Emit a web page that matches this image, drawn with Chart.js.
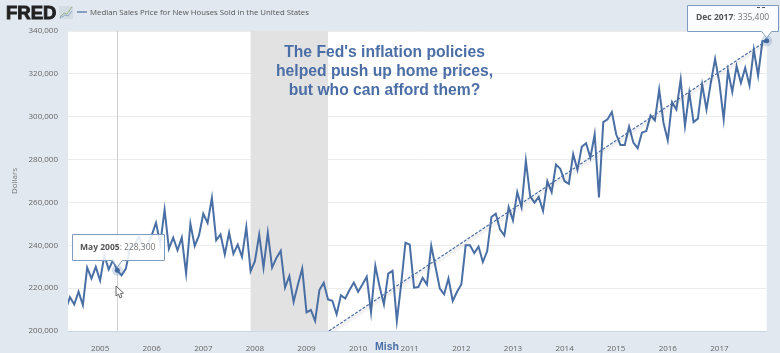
<!DOCTYPE html>
<html>
<head>
<meta charset="utf-8">
<title>Median Sales Price for New Houses Sold in the United States</title>
<script src="https://cdn.jsdelivr.net/npm/chart.js@4"></script>
<style>
    html, body { margin: 0; padding: 0; background: #e1e8f0; }
    canvas { display: block; filter: blur(0.3px); }
</style>
</head>
<body>
<canvas id="grafico" width="780" height="353"></canvas>
<script>
// Months are counted from Jan 2005 (0 = Jan 2005, 155 = Dec 2017)
const firstMonth = -8;
const prices = [
    210000, 215800, 212400, 218300, 212100, 229600, 224500, 229900,
    223600, 235300, 228700, 233000, 228300, 226000, 229100, 239200, 240000, 243900, 239200, 240000,
    244600, 250500, 240800, 256600, 238400, 243600, 237700, 243600, 226800, 250100, 239700, 244600,
    254700, 250400, 262200, 242300, 245100, 235700, 245900, 236000, 240300, 234600, 248500, 227900,
    232600, 245000, 229600, 245900, 229600, 234100, 237400, 220300, 225600, 213600, 221700, 229100,
    208700, 209800, 204700, 219100, 222500, 214700, 214100, 207800, 216700, 215200, 219100, 222600,
    218300, 221700, 225300, 208700, 230400, 220600, 212400, 226800, 228100, 204700, 221700, 241200,
    240300, 220200, 220500, 224800, 221700, 239800, 229900, 219800, 217100, 224500, 214000, 218300,
    221700, 240000, 240000, 236400, 239400, 232200, 237200, 253200, 254700, 247300, 244600, 257800,
    251600, 264800, 257700, 279500, 262900, 259900, 262600, 256000, 269900, 264800, 277700, 275700,
    269900, 268700, 282500, 275200, 286000, 287600, 280900, 291800, 262300, 297500, 298800, 302200,
    291800, 286800, 286800, 295400, 287900, 285300, 292600, 293300, 300600, 298300, 312700, 297200,
    289000, 306800, 303400, 317400, 295700, 311200, 297500, 299100, 315000, 303400, 315800, 327000,
    315800, 298800, 321500, 311500, 323600, 315800, 322800, 314600, 331300, 319200, 335200, 335400
];

const yearLabels = ["2005", "2006", "2007", "2008", "2009", "2010", "2011", "2012", "2013", "2014", "2015", "2016", "2017"];
const yearMonths = [0, 12, 24, 36, 48, 60, 72, 84, 96, 108, 120, 132, 144];
const priceTicks = [200000, 220000, 240000, 260000, 280000, 300000, 320000, 340000];

const trendMonths = [53.2, 154.6];
const trendValues = [200000, 335000];

const recessionStart = 35;
const recessionEnd = 53;

const markedMonths = [4, 155];
const markedValues = [228300, 335400];
const markedLabels = ["May 2005", "Dec 2017"];
const markedTexts = ["228,300", "335,400"];

const annotationLines = ["The Fed's inflation policies", "helped push up home prices,", "but who can afford them?"];

const AZUL = "#4a6ea5";
const FONTE = "'Open Sans', 'Noto Sans', sans-serif";

function caixaTooltip(ctx, x, y, w, h, px, py) {
    ctx.save();
    ctx.fillStyle = "rgba(255,255,255,0.86)";
    ctx.strokeStyle = "#7f9cc0";
    ctx.lineWidth = 1;
    ctx.beginPath();
    ctx.moveTo(x, y);
    ctx.lineTo(x + w, y);
    ctx.lineTo(x + w, y + h);
    ctx.lineTo(px + 5, y + h);
    ctx.lineTo(px, py);
    ctx.lineTo(px - 5, y + h);
    ctx.lineTo(x, y + h);
    ctx.closePath();
    ctx.fill();
    ctx.stroke();
    ctx.restore();
}

function textoTooltip(ctx, x, y, label, valor) {
    ctx.textAlign = "left";
    ctx.textBaseline = "middle";
    ctx.font = "bold 8.5px " + FONTE;
    ctx.fillStyle = "#555";
    ctx.fillText(label, x, y);
    const w = ctx.measureText(label).width;
    ctx.font = "8.5px " + FONTE;
    ctx.fillStyle = "#777";
    ctx.fillText(": " + valor, x + w, y);
}

// Page background, recession band and crosshair go under the lines
const fundo = {
    id: "fundo",
    beforeDraw(chart) {
        const { ctx, chartArea: a } = chart;
        ctx.save();
        ctx.fillStyle = "#e1e8f0";
        ctx.fillRect(0, 0, chart.width, chart.height);
        ctx.fillStyle = "#ffffff";
        ctx.fillRect(a.left, a.top, a.right - a.left, a.bottom - a.top);
        ctx.restore();
    },
    beforeDatasetsDraw(chart) {
        const { ctx, chartArea: a, scales: { x } } = chart;
        ctx.save();
        ctx.fillStyle = "#e2e2e2";
        const x0 = x.getPixelForValue(recessionStart);
        const x1 = x.getPixelForValue(recessionEnd);
        ctx.fillRect(x0, a.top, x1 - x0, a.bottom - a.top);
        ctx.strokeStyle = "#cfcfcf";
        ctx.lineWidth = 1;
        const cx = Math.round(x.getPixelForValue(markedMonths[0])) + 0.5;
        ctx.beginPath();
        ctx.moveTo(cx, a.top);
        ctx.lineTo(cx, a.bottom);
        ctx.stroke();
        ctx.restore();
    },
    beforeDatasetDraw(chart, args) {
        if (args.index !== 1) return;
        chart.ctx.save();
        chart.ctx.shadowColor = "rgba(0,0,0,0.28)";
        chart.ctx.shadowBlur = 3;
        chart.ctx.shadowOffsetX = 1;
        chart.ctx.shadowOffsetY = 2;
    },
    afterDatasetDraw(chart, args) {
        if (args.index === 1) chart.ctx.restore();
    }
};

// Header, annotation, tooltips and cursor
const extras = {
    id: "extras",
    afterDatasetsDraw(chart) {
        const { ctx, scales: { x, y } } = chart;
        ctx.save();

        // FRED logo
        ctx.font = "bold 18.5px 'Liberation Sans', sans-serif";
        ctx.textAlign = "left";
        ctx.textBaseline = "alphabetic";
        ctx.fillStyle = "#222";
        ctx.strokeStyle = "#222";
        ctx.lineWidth = 0.9;
        ctx.fillText("FRED", 6, 19);
        ctx.strokeText("FRED", 6, 19);
        ctx.fillStyle = "#d3dbe3";
        ctx.fillRect(59, 6, 14, 13);
        ctx.lineWidth = 1;
        ctx.strokeStyle = "#9db38a";
        ctx.beginPath();
        ctx.moveTo(60, 17); ctx.lineTo(64, 13); ctx.lineTo(67, 14); ctx.lineTo(72, 7);
        ctx.stroke();
        ctx.strokeStyle = "#8ea6c4";
        ctx.beginPath();
        ctx.moveTo(60, 18); ctx.lineTo(65, 15); ctx.lineTo(68, 16); ctx.lineTo(72, 11);
        ctx.stroke();

        // Legend
        ctx.strokeStyle = AZUL;
        ctx.lineWidth = 1.2;
        ctx.beginPath();
        ctx.moveTo(77, 12);
        ctx.lineTo(87, 12);
        ctx.stroke();
        ctx.font = "7.8px " + FONTE;
        ctx.fillStyle = "#555";
        ctx.textBaseline = "middle";
        ctx.fillText("Median Sales Price for New Houses Sold in the United States", 90, 12.5);

        // Annotation
        ctx.font = "bold 15.7px 'Liberation Sans', sans-serif";
        ctx.fillStyle = AZUL;
        ctx.textAlign = "center";
        annotationLines.forEach((linha, i) => ctx.fillText(linha, 384.5, 53 + i * 19));

        ctx.font = "bold 10.5px 'Liberation Sans', sans-serif";
        ctx.fillText("Mish", 387, 347.5);

        // Tooltips
        const p0x = x.getPixelForValue(markedMonths[0]);
        const p0y = y.getPixelForValue(markedValues[0]);
        caixaTooltip(ctx, 72.5, 234.5, 92, 26, p0x, p0y - 3);
        textoTooltip(ctx, 80, 247.5, markedLabels[0], markedTexts[0]);

        const p1x = x.getPixelForValue(markedMonths[1]);
        const p1y = y.getPixelForValue(markedValues[1]);
        caixaTooltip(ctx, 687.5, 5.5, 91, 26, p1x, p1y - 3);
        textoTooltip(ctx, 696, 17.5, markedLabels[1], markedTexts[1]);

        // Export icon peeking over the tooltip
        ctx.fillStyle = "#555";
        ctx.fillRect(757, 7, 3, 1);
        ctx.fillRect(762, 7, 3, 1);

        // Mouse cursor
        ctx.fillStyle = "#fff";
        ctx.strokeStyle = "#666";
        ctx.lineWidth = 1;
        ctx.beginPath();
        ctx.moveTo(116, 286);
        ctx.lineTo(116, 296);
        ctx.lineTo(118.5, 294);
        ctx.lineTo(120, 298);
        ctx.lineTo(122, 297);
        ctx.lineTo(120.5, 293.5);
        ctx.lineTo(123.5, 293);
        ctx.closePath();
        ctx.fill();
        ctx.stroke();

        ctx.restore();
    }
};

new Chart(document.getElementById("grafico"), {
    type: "line",
    data: {
        datasets: [
            {
                label: "Median Sales Price for New Houses Sold in the United States",
                data: prices.map((v, i) => ({ x: firstMonth + i, y: v })),
                borderColor: "#4a6fa5",
                borderWidth: 2,
                pointRadius: 0,
                tension: 0,
                order: 2
            },
            {
                label: "Trend",
                data: trendMonths.map((m, i) => ({ x: m, y: trendValues[i] })),
                borderColor: "#4a6ea5",
                borderWidth: 1.2,
                borderDash: [3, 1.5],
                pointRadius: 0,
                tension: 0,
                order: 1
            },
            {
                label: "Marked",
                data: markedMonths.map((m, i) => ({ x: m, y: markedValues[i] })),
                showLine: false,
                pointRadius: 2.5,
                pointBackgroundColor: "#3f659c",
                pointBorderColor: "rgba(69,114,167,0.22)",
                pointBorderWidth: 6,
                clip: false,
                order: 0
            }
        ]
    },
    options: {
        responsive: false,
        animation: false,
        events: [],
        layout: { padding: { top: 31, right: 13.3, bottom: 0, left: 0 } },
        plugins: { legend: { display: false }, tooltip: { enabled: false } },
        scales: {
            x: {
                type: "linear",
                min: -7.46,
                max: 155,
                afterBuildTicks: s => { s.ticks = yearMonths.map(m => ({ value: m })); },
                afterFit: s => { s.height = 22; },
                ticks: {
                    autoSkip: false,
                    maxRotation: 0,
                    padding: 5,
                    color: "#666",
                    font: { family: FONTE, size: 8 },
                    callback: v => yearLabels[yearMonths.indexOf(v)]
                },
                grid: { display: false },
                border: { color: "#ccd6eb" }
            },
            y: {
                min: 200000,
                max: 340000,
                afterBuildTicks: s => { s.ticks = priceTicks.map(v => ({ value: v })); },
                afterFit: s => { s.width = 68; },
                title: {
                    display: true,
                    text: "Dollars",
                    color: "#777",
                    font: { family: FONTE, size: 8 },
                    padding: { top: 10, bottom: 0 }
                },
                ticks: {
                    padding: 10,
                    color: "#666",
                    font: { family: FONTE, size: 8 },
                    callback: v => v.toLocaleString("en-US")
                },
                grid: { color: "#ececec", drawTicks: false },
                border: { display: false }
            }
        }
    },
    plugins: [fundo, extras]
});
</script>
</body>
</html>
